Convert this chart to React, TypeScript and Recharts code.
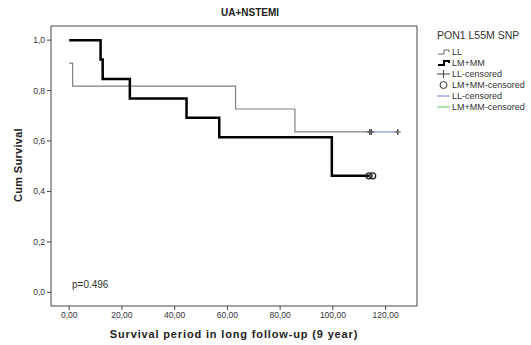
import React from "react"
import {
  ComposedChart,
  Line,
  Scatter,
  XAxis,
  YAxis,
  ReferenceLine,
} from "recharts"

// Kaplan-Meier steps
const llTimes = [0, 1.3, 63.1, 85.6, 114.0]
const llSurv = [0.909, 0.818, 0.727, 0.636, 0.636]
const lmTimes = [0, 11.9, 12.7, 23.0, 44.5, 56.9, 99.6, 113.7]
const lmSurv = [1.0, 0.923, 0.846, 0.769, 0.692, 0.615, 0.462, 0.462]

const llCensTimes = [114.0, 114.6, 124.6]
const llCensSurv = [0.636, 0.636, 0.636]
const lmCensTimes = [113.7, 115.1]
const lmCensSurv = [0.462, 0.462]

const xTicks = [0, 20, 40, 60, 80, 100, 120]
const yTicks = [0, 0.2, 0.4, 0.6, 0.8, 1.0]

const legendTitle = "PON1 L55M SNP"
const legendItems = ["LL", "LM+MM", "LL-censored", "LM+MM-censored", "LL-censored", "LM+MM-censored"]

const toRows = (ts: number[], ss: number[]) => ts.map((t, i) => ({ t, s: ss[i] }))

const llData = toRows(llTimes, llSurv)
const lmData = toRows(lmTimes, lmSurv)
const llCens = toRows(llCensTimes, llCensSurv)
const lmCens = toRows(lmCensTimes, lmCensSurv)

const X_MIN = -6.9
const X_MAX = 131.9
const Y_MIN = -0.054
const Y_MAX = 1.056
const FRAME = "#444"
const FONT = "'Liberation Sans', Arial, sans-serif"

const comma = (v: number, d: number) => v.toFixed(d).replace(".", ",")

const PlusMark = (props: any) => {
  const { cx, cy } = props
  return (
    <g>
      <line x1={cx} y1={cy - 3} x2={cx} y2={cy + 3} stroke="#555" strokeWidth={1.5} />
      <line x1={cx - 3} y1={cy} x2={cx + 3} y2={cy} stroke="#555" strokeWidth={1} />
    </g>
  )
}

const CircleMark = (props: any) => {
  const { cx, cy } = props
  return <circle cx={cx} cy={cy} r={3} fill="none" stroke="#222" strokeWidth={1.3} />
}

const LegendIcon = ({ kind }: { kind: number }) => {
  switch (kind) {
    case 0:
      return <path d="M1 7 H7 V3 H12 V5" fill="none" stroke="#666" strokeWidth={1} />
    case 1:
      return <path d="M1 7 H7 V3 H12 V5" fill="none" stroke="#000" strokeWidth={2} />
    case 2:
      return (
        <g stroke="#444">
          <line x1={0} y1={5} x2={13} y2={5} />
          <line x1={6.5} y1={1} x2={6.5} y2={9} />
        </g>
      )
    case 3:
      return <circle cx={6.5} cy={5} r={3.5} fill="none" stroke="#333" strokeWidth={1} />
    case 4:
      return <line x1={0} y1={5} x2={13} y2={5} stroke="#6f80d8" />
    default:
      return <line x1={0} y1={5} x2={13} y2={5} stroke="#55cc66" />
  }
}

export default function App() {
  return (
    <div style={{ position: "absolute", left: 0, top: 0, width: 531, height: 345, background: "#fff", fontFamily: FONT }}>
      <ComposedChart width={531} height={345} margin={{ top: 26, right: 114, bottom: 0, left: 0 }}>
        <XAxis
          type="number"
          dataKey="t"
          domain={[X_MIN, X_MAX]}
          ticks={xTicks}
          tickFormatter={(v: number) => comma(v, 2)}
          height={39}
          tickSize={4}
          stroke={FRAME}
          tick={{ fontSize: 8.5, fill: "#333", fontFamily: FONT }}
          allowDataOverflow
        />
        <YAxis
          type="number"
          dataKey="s"
          domain={[Y_MIN, Y_MAX]}
          ticks={yTicks}
          tickFormatter={(v: number) => comma(v, 1)}
          width={51}
          tickSize={4}
          stroke={FRAME}
          tick={{ fontSize: 8.5, fill: "#333", fontFamily: FONT }}
          allowDataOverflow
        />
        <ReferenceLine y={Y_MAX} stroke={FRAME} />
        <ReferenceLine x={X_MAX} stroke={FRAME} />
        <Line data={llData} dataKey="s" type="stepAfter" stroke="#808080" strokeWidth={1.2} dot={false} isAnimationActive={false} />
        <Line data={lmData} dataKey="s" type="stepAfter" stroke="#000" strokeWidth={2.5} dot={false} isAnimationActive={false} />
        <Line data={llCens} dataKey="s" stroke="#6f80d8" strokeWidth={1} dot={false} isAnimationActive={false} />
        <Line data={lmCens} dataKey="s" stroke="#55cc66" strokeWidth={1} dot={false} isAnimationActive={false} />
        <Scatter data={llCens} shape={<PlusMark />} isAnimationActive={false} />
        <Scatter data={lmCens} shape={<CircleMark />} isAnimationActive={false} />
      </ComposedChart>

      <div style={{ position: "absolute", left: 150, width: 200, top: 7, textAlign: "center", fontSize: 10, fontWeight: "bold", color: "#222" }}>
        UA+NSTEMI
      </div>
      <div style={{ position: "absolute", left: 72, top: 279, fontSize: 10, color: "#333" }}>p=0.496</div>
      <div
        style={{
          position: "absolute",
          left: 18 - 60,
          top: 166 - 7,
          width: 120,
          textAlign: "center",
          fontSize: 11,
          fontWeight: "bold",
          letterSpacing: 0.3,
          color: "#222",
          transform: "rotate(-90deg)",
        }}
      >
        Cum Survival
      </div>
      <div style={{ position: "absolute", left: 84, width: 300, top: 328, textAlign: "center", fontSize: 11, fontWeight: "bold", letterSpacing: 0.85, color: "#222" }}>
        Survival period in long follow-up (9 year)
      </div>

      <div style={{ position: "absolute", left: 437, top: 29, fontSize: 10.5, color: "#333" }}>{legendTitle}</div>
      {legendItems.map((name, i) => (
        <div key={i} style={{ position: "absolute", left: 437, top: 47 + i * 10.9, display: "flex", alignItems: "center", fontSize: 9, color: "#333", lineHeight: "10px" }}>
          <svg width={14} height={10} style={{ marginRight: 1 }}>
            <LegendIcon kind={i} />
          </svg>
          {name}
        </div>
      ))}
    </div>
  )
}
